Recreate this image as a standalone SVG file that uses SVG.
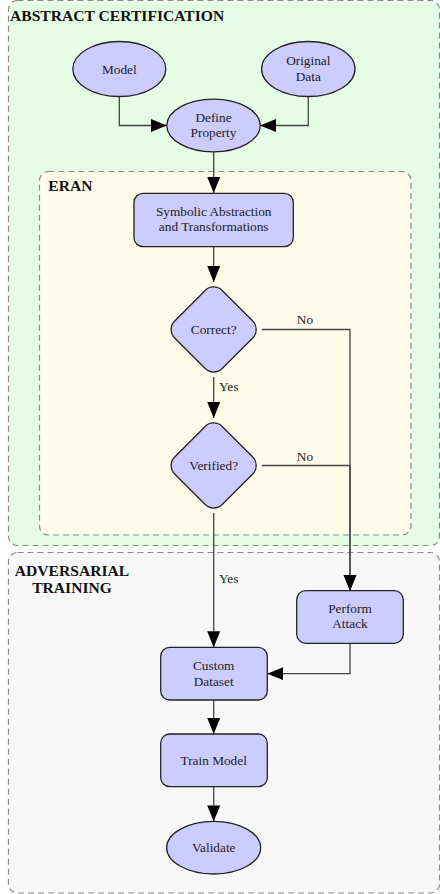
<svg xmlns="http://www.w3.org/2000/svg" width="440" height="894" viewBox="0 0 440 894">
<defs>
<marker id="ah" markerUnits="userSpaceOnUse" markerWidth="16" markerHeight="14" refX="16" refY="7" orient="auto">
<path d="M0,0.5 L16,7 L0,13.5 Z" fill="#000"/>
</marker>
<style>
.cl{stroke:#8a8a8a;stroke-width:1.2;stroke-dasharray:6,4}
.nd{fill:#ccccff;stroke:#222;stroke-width:1.3}
.t{font-family:"Liberation Serif","Times New Roman",serif;font-size:13.3px;fill:#222;text-anchor:middle}
.tl{font-family:"Liberation Serif","Times New Roman",serif;font-size:13.3px;fill:#222}
.ct{font-family:"Liberation Serif","Times New Roman",serif;font-size:15.6px;font-weight:bold;fill:#111}
.e{fill:none;stroke:#444;stroke-width:1.3}
</style>
</defs>
<g id="cluster-abstract">
<rect class="cl" x="8.5" y="0.5" width="431" height="545" rx="9" fill="#e6fde6"/>
<text class="ct" x="10" y="21">ABSTRACT CERTIFICATION</text>
</g>
<g id="cluster-eran">
<rect class="cl" x="39.5" y="171.5" width="371.5" height="363.5" rx="9" fill="#fffce9"/>
<text class="ct" x="48.3" y="191">ERAN</text>
</g>
<g id="cluster-adversarial">
<rect class="cl" x="8.5" y="552.5" width="431" height="340.5" rx="9" fill="#f8f8f8"/>
<text class="ct" x="72" y="576" text-anchor="middle">ADVERSARIAL</text>
<text class="ct" x="72" y="592.7" text-anchor="middle">TRAINING</text>
</g>
<g id="connectors">
<path class="e" d="M119.3,96.5 V125.5 H166.7" marker-end="url(#ah)"/>
<path class="e" d="M308.3,96.5 V125.5 H260" marker-end="url(#ah)"/>
<path class="e" d="M213.7,152 V193" marker-end="url(#ah)"/>
<path class="e" d="M213.7,246.7 V282" marker-end="url(#ah)"/>
<path class="e" d="M213.7,377 V418" marker-end="url(#ah)"/>
<text class="tl" x="219" y="390.7">Yes</text>
<path class="e" d="M261.7,329.5 H350 V590.7" marker-end="url(#ah)"/>
<text class="t" x="305" y="324.3">No</text>
<path class="e" d="M261.7,465.5 H350 V590.7" marker-end="url(#ah)"/>
<text class="t" x="305" y="460.7">No</text>
<path class="e" d="M213.7,513 V647.3" marker-end="url(#ah)"/>
<text class="tl" x="219" y="582.7">Yes</text>
<path class="e" d="M350,643.3 V673.7 H267.3" marker-end="url(#ah)"/>
<path class="e" d="M213.7,700 V734" marker-end="url(#ah)"/>
<path class="e" d="M213.7,786.7 V821.4" marker-end="url(#ah)"/>
</g>
<g id="node-model">
<ellipse class="nd" cx="119.3" cy="69" rx="46.5" ry="27.5"/>
<text class="t" x="119.3" y="73.5">Model</text>
</g>
<g id="node-original-data">
<ellipse class="nd" cx="308.3" cy="69" rx="46.7" ry="27.5"/>
<text class="t" x="308.3" y="65">Original</text>
<text class="t" x="308.3" y="81">Data</text>
</g>
<g id="node-define-property">
<ellipse class="nd" cx="213.5" cy="125.5" rx="46.7" ry="26.3"/>
<text class="t" x="213.5" y="121.7">Define</text>
<text class="t" x="213.5" y="136.7">Property</text>
</g>
<g id="node-symbolic">
<rect class="nd" x="134" y="193.3" width="159.3" height="53.4" rx="9"/>
<text class="t" x="213.7" y="215.7">Symbolic Abstraction</text>
<text class="t" x="213.7" y="231">and Transformations</text>
</g>
<g id="node-correct">
<rect class="nd" x="-33.6" y="-33.6" width="67.2" height="67.2" rx="12" transform="translate(213.7,329.5) rotate(45)"/>
<text class="t" x="213.7" y="334.3">Correct?</text>
</g>
<g id="node-verified">
<rect class="nd" x="-33.6" y="-33.6" width="67.2" height="67.2" rx="12" transform="translate(213.7,465.5) rotate(45)"/>
<text class="t" x="213.7" y="470.2">Verified?</text>
</g>
<g id="node-perform-attack">
<rect class="nd" x="296.7" y="590.7" width="106.6" height="52.6" rx="9"/>
<text class="t" x="350" y="612.7">Perform</text>
<text class="t" x="350" y="628.3">Attack</text>
</g>
<g id="node-custom-dataset">
<rect class="nd" x="160.7" y="647.3" width="106.6" height="52.7" rx="9"/>
<text class="t" x="213.7" y="670">Custom</text>
<text class="t" x="213.7" y="685.7">Dataset</text>
</g>
<g id="node-train-model">
<rect class="nd" x="160.7" y="734" width="106.6" height="52.7" rx="9"/>
<text class="t" x="213.7" y="765">Train Model</text>
</g>
<g id="node-validate">
<ellipse class="nd" cx="213.7" cy="847.7" rx="47" ry="26.3"/>
<text class="t" x="213.7" y="852">Validate</text>
</g>
</svg>
